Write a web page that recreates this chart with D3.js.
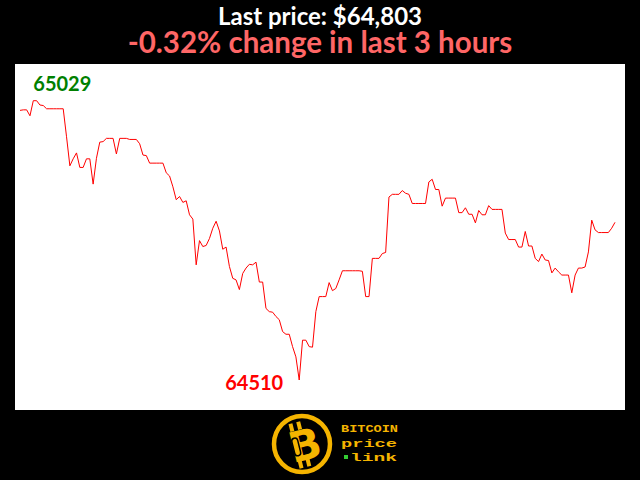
<!DOCTYPE html>
<html><head><meta charset="utf-8">
<script src="https://cdn.jsdelivr.net/npm/d3@7"></script>
<style>html,body{margin:0;padding:0;background:#000;}svg{display:block;}</style>
</head><body>
<svg id="c" width="640" height="480"></svg>
<script>
const lastPrice = "$64,803";
const changePct = "-0.32%";
const titleLine1 = "Last price: " + lastPrice;
const titleLine2 = changePct + " change in last 3 hours";
const prices = [
65011,65012,65012,65001,65029,65029,65021,65020,65014,65014,
65014,65014,65014,65014,64962,64908,64921,64932,64905,64905,
64921,64921,64874,64922,64952,64953,64959,64959,64959,64930,
64959,64959,64959,64957,64957,64957,64949,64928,64927,64913,
64913,64913,64913,64913,64895,64889,64869,64845,64851,64840,
64843,64817,64809,64724,64769,64758,64760,64773,64792,64805,
64787,64753,64757,64721,64699,64696,64678,64708,64718,64725,
64724,64729,64692,64692,64643,64637,64636,64628,64622,64600,
64595,64595,64572,64553,64510,64584,64584,64572,64571,64637,
64665,64665,64665,64691,64676,64680,64696,64713,64713,64713,
64713,64713,64713,64712,64665,64665,64736,64736,64736,64745,
64747,64850,64855,64855,64855,64862,64857,64855,64838,64838,
64838,64838,64838,64878,64883,64864,64864,64833,64848,64848,
64848,64848,64821,64821,64830,64818,64818,64802,64825,64817,
64817,64834,64827,64827,64827,64827,64783,64771,64771,64771,
64757,64757,64786,64759,64759,64736,64730,64744,64733,64732,
64709,64718,64711,64705,64705,64705,64672,64705,64718,64718,
64720,64748,64807,64789,64784,64784,64784,64784,64792,64803
];
const logoLines = ["BITCOIN", "price", "link"];

const svg = d3.select("#c");
svg.append("rect").attr("width",640).attr("height",480).attr("fill","#000");

// titles
svg.append("text").attr("x",320).attr("y",24.5).attr("text-anchor","middle")
  .attr("font-family","Lato, sans-serif").attr("font-weight","bold").attr("font-size",24)
  .attr("fill","#fff").text(titleLine1);
svg.append("text").attr("x",320).attr("y",53).attr("text-anchor","middle")
  .attr("font-family","Lato, sans-serif").attr("font-weight","bold").attr("font-size",29.5)
  .attr("fill","#ff6666").text(titleLine2);

// panel
svg.append("rect").attr("x",15).attr("y",64).attr("width",610).attr("height",346).attr("fill","#fff");

const x = d3.scaleLinear().domain([0, prices.length-1]).range([20, 615]);
const yMin = d3.min(prices), yMax = d3.max(prices);
const y = d3.scaleLinear().domain([yMin, yMax]).range([380, 100.7]);

svg.append("path").datum(prices)
  .attr("d", d3.line().x((d,i)=>x(i)).y(d=>y(d)))
  .attr("fill","none").attr("stroke","#ff0000").attr("stroke-width",1);

const iMax = prices.indexOf(yMax), iMin = prices.indexOf(yMin);
svg.append("text").attr("x",x(iMax)).attr("y",y(yMax)-10)
  .attr("font-family","Lato, sans-serif").attr("font-weight","bold").attr("font-size",20)
  .attr("fill","#008000").text(yMax);
svg.append("text").attr("x",x(iMin)-16).attr("y",y(yMin)+10).attr("text-anchor","end")
  .attr("font-family","Lato, sans-serif").attr("font-weight","bold").attr("font-size",20)
  .attr("fill","#ff0000").text(yMin);

// logo
const gold = "#f5b400";
const lg = svg.append("g");
lg.append("circle").attr("cx",302).attr("cy",444).attr("r",28).attr("fill","#000")
  .attr("stroke",gold).attr("stroke-width",4.5);
const bg = lg.append("g").attr("transform","translate(304,445) rotate(-14)");
bg.append("rect").attr("x",-10).attr("y",-24).attr("width",4).attr("height",8).attr("fill",gold);
bg.append("rect").attr("x",-2).attr("y",-24).attr("width",4).attr("height",8).attr("fill",gold);
bg.append("rect").attr("x",-10).attr("y",14).attr("width",4).attr("height",8).attr("fill",gold);
bg.append("rect").attr("x",-2).attr("y",14).attr("width",4).attr("height",8).attr("fill",gold);
bg.append("text").attr("x",1).attr("y",15).attr("text-anchor","middle")
  .attr("font-family","DejaVu Sans, sans-serif").attr("font-weight","bold").attr("font-size",42)
  .attr("fill",gold).text("B");
bg.append("rect").attr("x",-11).attr("y",-9).attr("width",6).attr("height",18).attr("rx",3)
  .attr("fill","none").attr("stroke","#000").attr("stroke-width",1.5);

const ty = [432, 447, 461];
const tw = [57, 56, 47];
const tx = [341, 341, 350];
logoLines.forEach((t,i)=>{
  svg.append("text").attr("x",tx[i]).attr("y",ty[i])
    .attr("font-family","Liberation Mono, monospace").attr("font-weight","bold").attr("font-size",11)
    .attr("textLength",tw[i]).attr("lengthAdjust","spacingAndGlyphs")
    .attr("fill",gold).text(t);
});
svg.append("rect").attr("x",344).attr("y",455).attr("width",4).attr("height",4).attr("fill","#33cc33");
</script>
</body></html>
